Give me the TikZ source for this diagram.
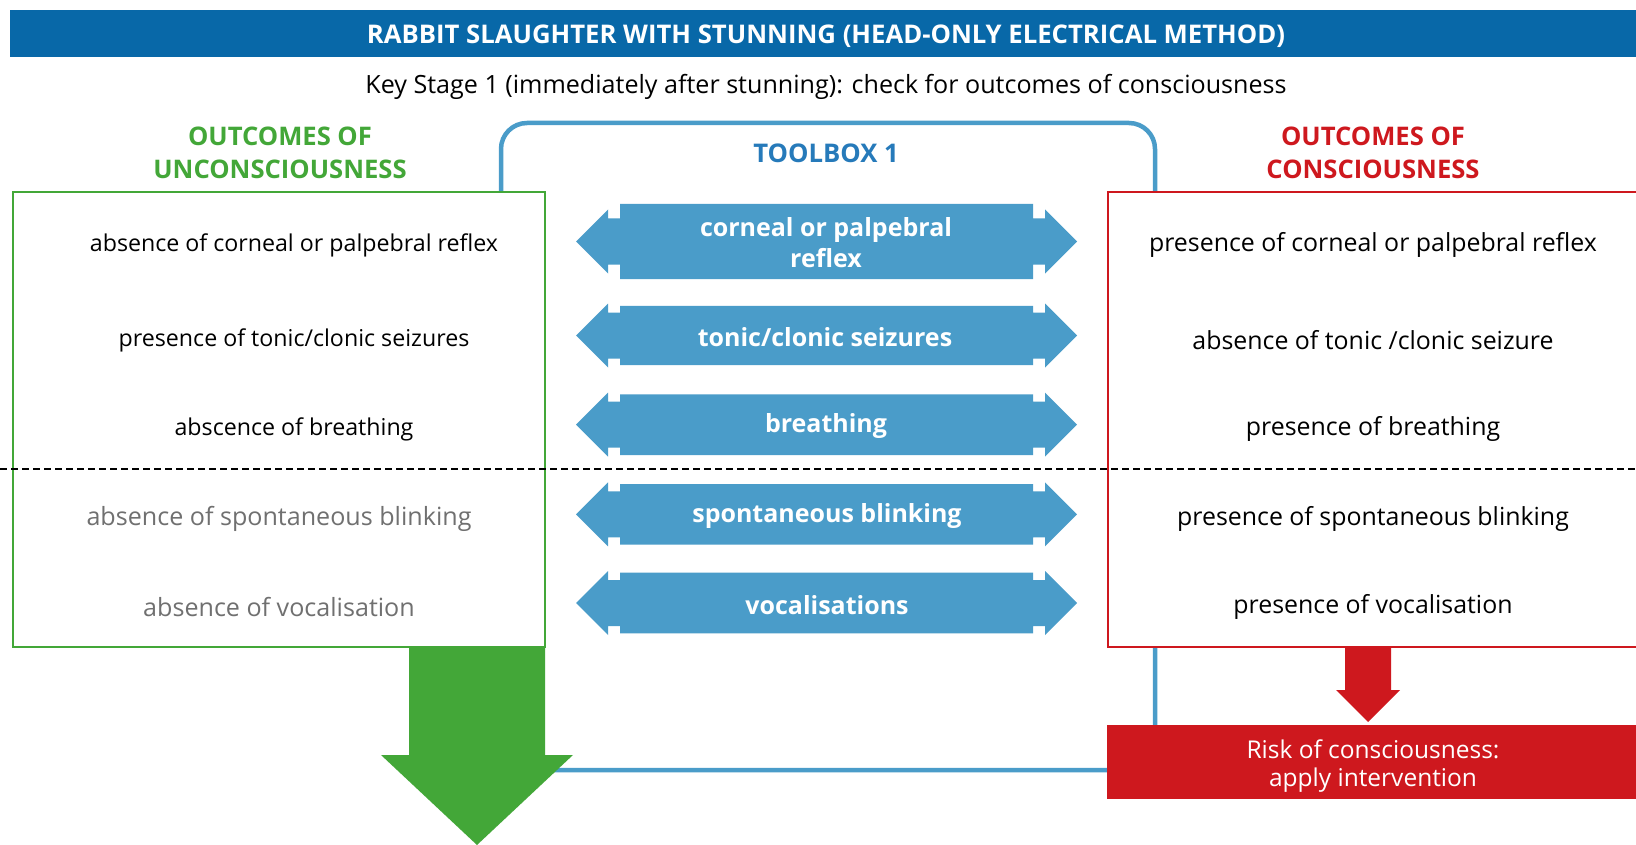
\documentclass[tikz,border=0pt]{standalone}
\usepackage{fontspec}
\setmainfont{Open Sans}
\definecolor{barblue}{RGB}{8,104,168}
\definecolor{lblue}{RGB}{74,156,201}
\definecolor{tbblue}{RGB}{38,122,186}
\definecolor{ogreen}{RGB}{67,167,56}
\definecolor{ored}{RGB}{206,24,30}
\definecolor{ogray}{RGB}{112,112,112}
\newcommand\twoway[2]{%
  \fill[arrowfill] (576,#1) -- (608,#1-32) -- (608,#1-23) -- (620,#1-23) -- (620,#1-#2)
    -- (1033,#1-#2) -- (1033,#1-23) -- (1045,#1-23) -- (1045,#1-32) -- (1077,#1)
    -- (1045,#1+32) -- (1045,#1+23) -- (1033,#1+23) -- (1033,#1+#2)
    -- (620,#1+#2) -- (620,#1+23) -- (608,#1+23) -- (608,#1+32) -- cycle;}
\begin{document}
\begin{tikzpicture}[x=1pt,y=-1pt,
  every node/.style={inner sep=0pt,outer sep=0pt},
  reg/.style={font=\fontsize{24.9}{30}\selectfont,align=center},
  regl/.style={font=\fontsize{23.2}{30}\selectfont,align=center},
  regg/.style={font=\fontsize{25.1}{30}\selectfont,align=center,text=ogray},
  bld/.style={font=\fontsize{25}{31}\selectfont\bfseries,align=center},
  head/.style={font=\fontsize{25.6}{33}\selectfont\bfseries,align=center},
  arrowfill/.style={fill=lblue},
  arrtext/.style={bld,text=white},
  outbox/.style={line width=2.5pt,fill=white},
]
\useasboundingbox (0,0) rectangle (1636,845);
\fill[white] (0,0) rectangle (1636,845);
% title bar
\fill[barblue] (10,10) rectangle (1636,57);
\node[font=\fontsize{25.7}{31}\selectfont\bfseries,text=white] (title) at (826,36) {RABBIT SLAUGHTER WITH STUNNING (HEAD-ONLY ELECTRICAL METHOD)};
\node[font=\fontsize{25.1}{30}\selectfont] (sub) at (826,87) {Key Stage 1 (immediately after stunning): check for outcomes of consciousness};
% toolbox frame
\draw[lblue,line width=4.5pt,rounded corners=26pt] (501,770) -- (501,123) -- (1155,123) -- (1155,770) -- cycle;
\node[font=\fontsize{25.7}{31}\selectfont\bfseries,text=tbblue] (tb) at (826,153) {TOOLBOX 1};
% outcome boxes
\draw[outbox,draw=ogreen] (13,192) rectangle (545,647);
\draw[outbox,draw=ored] (1108,192) rectangle (1645,647);
\node[head,text=ogreen] (hg) at (280,153) {OUTCOMES OF\\UNCONSCIOUSNESS};
\node[head,text=ored] (hr) at (1373,153) {OUTCOMES OF\\CONSCIOUSNESS};
% dashed separator
\draw[line width=1.3pt,dash pattern=on 7pt off 4pt] (0,469) -- (1636,469);
% double arrows
\twoway{241.5}{37.5}
\twoway{335.5}{29.7}
\twoway{424.7}{30.3}
\twoway{514.3}{30.3}
\twoway{603}{30.3}
\node[arrtext] (t1) at (826,243) {corneal or palpebral\\reflex};
\node[arrtext] (t2) at (825,337) {tonic/clonic seizures};
\node[arrtext] (t3) at (826,426) {breathing};
\node[arrtext] (t4) at (827,516) {spontaneous blinking};
\node[arrtext] (t5) at (827,605) {vocalisations};
% left texts
\node[regl] (l1) at (294,245) {absence of corneal or palpebral reflex};
\node[regl] (l2) at (294,340) {presence of tonic/clonic seizures};
\node[regl] (l3) at (294,429) {abscence of breathing};
\node[regg] (l4) at (279,519) {absence of spontaneous blinking};
\node[regg] (l5) at (279,607) {absence of vocalisation};
% right texts
\node[reg] (r1) at (1373,245) {presence of corneal or palpebral reflex};
\node[reg] (r2) at (1373,340) {absence of tonic /clonic seizure};
\node[reg] (r3) at (1373,429) {presence of breathing};
\node[reg] (r4) at (1373,519) {presence of spontaneous blinking};
\node[reg] (r5) at (1373,607) {presence of vocalisation};
% green down arrow
\fill[ogreen] (409,647) -- (545,647) -- (545,755) -- (573,755) -- (477,845) -- (381,755) -- (409,755) -- cycle;
% red down arrow and intervention box
\fill[ored] (1345,647) -- (1391,647) -- (1391,690) -- (1400,690) -- (1368,722) -- (1336,690) -- (1345,690) -- cycle;
\fill[ored] (1107,725) rectangle (1645,799);
\node[font=\fontsize{24.5}{28}\selectfont,align=center,text=white] (risk) at (1373,766) {Risk of consciousness:\\apply intervention};
\end{tikzpicture}
\end{document}
